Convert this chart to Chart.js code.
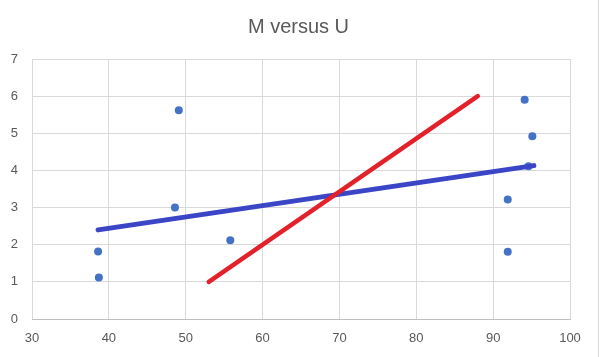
<!DOCTYPE html>
<html>
<head>
<meta charset="utf-8">
<script src="https://cdn.jsdelivr.net/npm/chart.js@4/dist/chart.umd.min.js"></script>
<style>
html,body{margin:0;padding:0;background:#fff;}
#wrap{width:600px;height:357px;position:relative;}
</style>
</head>
<body>
<div id="wrap"><canvas id="c" width="600" height="357"></canvas></div>
<script>
const title = "M versus U";
const pointsU = [38.6, 38.7, 48.6, 49.1, 55.8, 91.9, 91.9, 94.1, 94.6, 95.1];
const pointsM = [1.82, 1.12, 3.00, 5.62, 2.12, 3.22, 1.81, 5.90, 4.11, 4.92];
const blueLineU = [38.6, 95.3];
const blueLineM = [2.40, 4.13];
const redLineU = [53, 88];
const redLineM = [1, 6];
const xTicks = [30, 40, 50, 60, 70, 80, 90, 100];
const yTicks = [0, 1, 2, 3, 4, 5, 6, 7];

const toXY = (xs, ys) => xs.map((x, i) => ({x: x, y: ys[i]}));

const deco = {
  id: 'deco',
  afterDraw(chart) {
    const ctx = chart.ctx;
    ctx.save();
    ctx.fillStyle = '#595959';
    ctx.font = '20px "Liberation Sans", Arial, sans-serif';
    ctx.textAlign = 'center';
    ctx.textBaseline = 'middle';
    ctx.fillText(title, 298.5, 27);
    ctx.strokeStyle = '#d9d9d9';
    ctx.lineWidth = 1;
    ctx.beginPath();
    ctx.moveTo(598.5, 0);
    ctx.lineTo(598.5, 357);
    ctx.stroke();
    ctx.restore();
  }
};

new Chart(document.getElementById('c'), {
  type: 'scatter',
  data: {
    datasets: [
      {
        label: 'Red line',
        data: toXY(redLineU, redLineM),
        showLine: true,
        borderColor: '#e3212b',
        borderWidth: 4.5,
        borderCapStyle: 'round',
        pointRadius: 0,
        order: 1
      },
      {
        label: 'Blue line',
        data: toXY(blueLineU, blueLineM),
        showLine: true,
        borderColor: '#3a46c6',
        borderWidth: 5,
        borderCapStyle: 'round',
        pointRadius: 0,
        order: 2
      },
      {
        label: 'M',
        data: toXY(pointsU, pointsM),
        backgroundColor: '#4472c4',
        borderColor: '#4472c4',
        borderWidth: 0,
        pointRadius: 4,
        order: 3
      }
    ]
  },
  options: {
    responsive: false,
    animation: false,
    devicePixelRatio: 1,
    layout: { padding: { left: 0, right: 30, top: 59, bottom: 0 } },
    plugins: { legend: { display: false }, title: { display: false }, tooltip: { enabled: false } },
    scales: {
      x: {
        type: 'linear',
        min: xTicks[0],
        max: xTicks[xTicks.length - 1],
        afterBuildTicks: (s) => { s.ticks = xTicks.map(v => ({value: v})); },
        afterFit: (s) => { s.height = 38; },
        grid: { color: '#d9d9d9', drawTicks: false },
        border: { color: '#bfbfbf' },
        ticks: { color: '#595959', padding: 12, font: { family: '"Liberation Sans", Arial, sans-serif', size: 13 } }
      },
      y: {
        type: 'linear',
        min: yTicks[0],
        max: yTicks[yTicks.length - 1],
        afterBuildTicks: (s) => { s.ticks = yTicks.map(v => ({value: v})); },
        afterFit: (s) => { s.width = 32; },
        grid: { color: '#d9d9d9', drawTicks: false },
        border: { display: false },
        ticks: { color: '#595959', padding: 14, font: { family: '"Liberation Sans", Arial, sans-serif', size: 13 } }
      }
    }
  },
  plugins: [deco]
});
</script>
</body>
</html>
